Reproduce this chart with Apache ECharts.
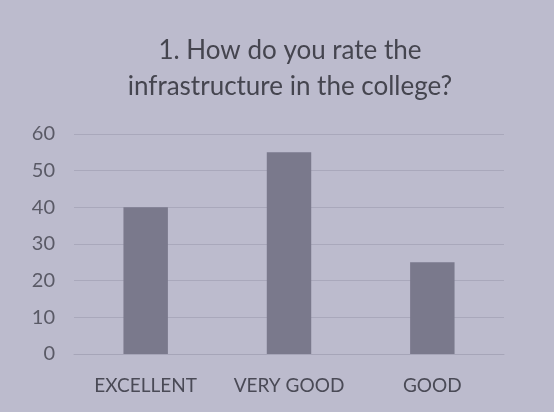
<!DOCTYPE html>
<html><head><meta charset="utf-8">
<script src="https://cdn.jsdelivr.net/npm/echarts@6/dist/echarts.min.js"></script>
<style>html,body{margin:0;padding:0;background:#bcbbcd;}#c{width:554px;height:412px;}</style>
</head><body><div id="c"></div>
<script>
const categories = ["EXCELLENT", "VERY GOOD", "GOOD"];
const values = [40, 55, 25];
const yTicks = { min: 0, max: 60, interval: 10 };
const titleText = "1. How do you rate the\ninfrastructure in the college?";

const chart = echarts.init(document.getElementById('c'));
chart.setOption({
  backgroundColor: '#bcbbcd',
  animation: false,
  title: {
    text: titleText, left: 285, top: 28, textAlign: 'center',
    textStyle: { fontFamily: 'Lato', fontSize: 26, fontWeight: 'normal', color: '#45454f', lineHeight: 36, align: 'center' }
  },
  grid: { left: 74, right: 50, top: 134, bottom: 58 },
  xAxis: {
    type: 'category', data: categories,
    axisLine: { show: true, lineStyle: { color: '#a6a5b8', width: 1 } },
    axisTick: { show: false },
    axisLabel: { interval: 0, hideOverlap: false, margin: 22, fontFamily: 'Lato', fontSize: 19, color: '#4a4a56' }
  },
  yAxis: {
    type: 'value', min: yTicks.min, max: yTicks.max, interval: yTicks.interval,
    axisLine: { show: false }, axisTick: { show: false },
    splitLine: { lineStyle: { color: '#a9a8bb', width: 1 } },
    axisLabel: { margin: 19, fontFamily: 'Lato', fontSize: 20, color: '#5a5a66' }
  },
  series: [{
    type: 'bar', data: values, barWidth: '31%',
    itemStyle: { color: '#7a798c' }
  }]
});
</script></body></html>
